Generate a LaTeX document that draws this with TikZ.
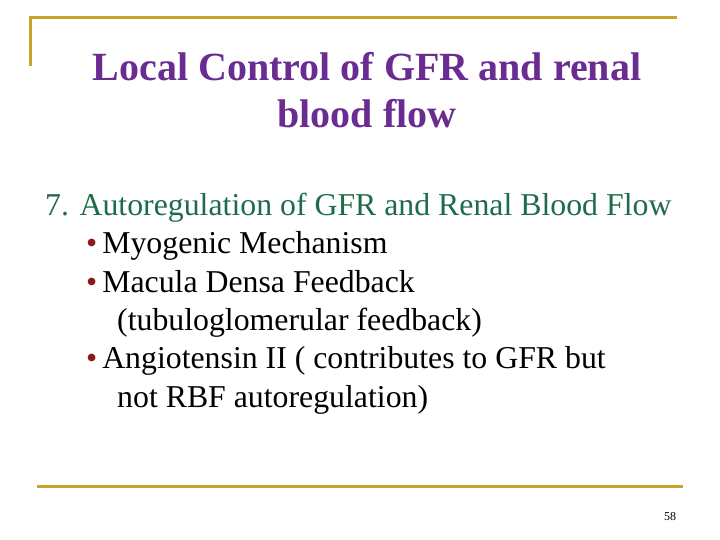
\documentclass[tikz,border=0pt]{standalone}
\usepackage{fontspec}
\setmainfont{Liberation Serif}
\definecolor{gold}{HTML}{C8A02A}
\definecolor{ttl}{HTML}{6A2C91}
\definecolor{grn}{HTML}{1E6B4A}
\definecolor{bul}{HTML}{8B1A1A}
\newcommand{\bulmark}{\textcolor{bul}{•}\hspace{-3pt} }
\begin{document}
\begin{tikzpicture}[x=1pt,y=-1pt,
  ln/.style={anchor=base west,inner sep=0pt,font=\fontsize{31.8}{36}\selectfont},
  gl/.style={gold,line width=3pt}]
\useasboundingbox (0,0) rectangle (720,540);
\draw[gl] (30,18) -- (677,18);
\draw[gl] (30,16.5) -- (30,66);
\draw[gl] (37,486) -- (683,486);
\node[inner sep=0pt,align=center,text=ttl,font=\fontsize{40}{47}\selectfont\bfseries] (title) at (367,90) {Local Control of GFR and renal\\blood flow};
\node[ln,text=grn] (l1) at (45,215) {7. Autoregulation of GFR and Renal Blood Flow};
\node[ln] (l2) at (86,253) {\bulmark Myogenic Mechanism};
\node[ln] (l3) at (86,292) {\bulmark Macula Densa Feedback};
\node[ln] (l4) at (117,330) {(tubuloglomerular feedback)};
\node[ln] (l5) at (86,368) {\bulmark Angiotensin II ( contributes to GFR but};
\node[ln] (l6) at (117,407) {not RBF autoregulation)};
\node[inner sep=0pt,font=\fontsize{12}{14}\selectfont] (pg) at (670,517) {58};
\end{tikzpicture}
\end{document}
